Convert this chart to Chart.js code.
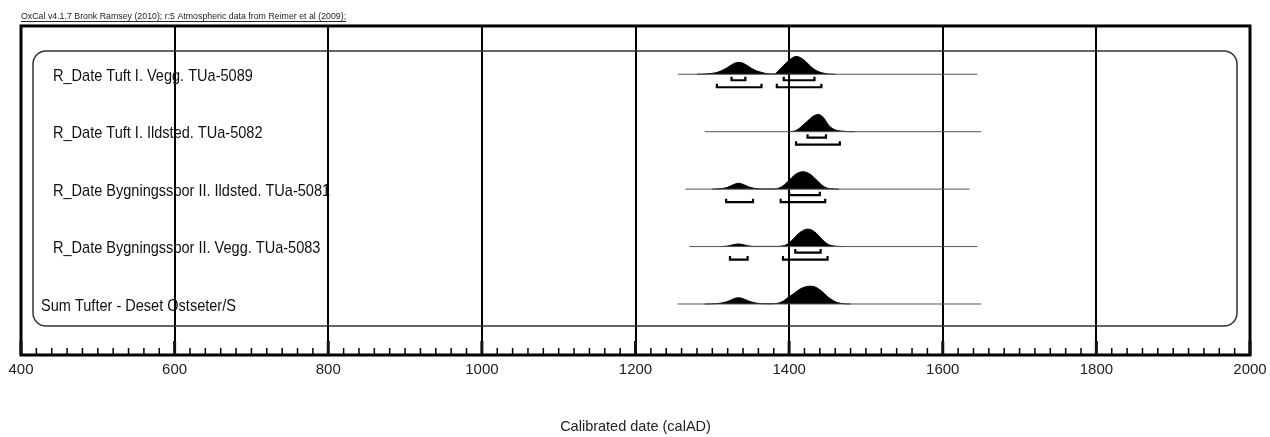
<!DOCTYPE html>
<html>
<head>
<meta charset="utf-8">
<script src="https://cdn.jsdelivr.net/npm/chart.js@4.4.0/dist/chart.umd.min.js"></script>
<style>
html,body{margin:0;padding:0;background:#fff;}
</style>
</head>
<body>
<canvas id="graf" width="1270" height="437"></canvas>
<script>
// rows, top to bottom
var etichette=[
  "R_Date Tuft I. Vegg. TUa-5089",
  "R_Date Tuft I. Ildsted. TUa-5082",
  "R_Date Bygningsspor II. Ildsted. TUa-5081",
  "R_Date Bygningsspor II. Vegg. TUa-5083",
  "Sum Tufter - Deset Ostseter/S"
];
var intestazione="OxCal v4.1.7 Bronk Ramsey (2010); r:5 Atmospheric data from Reimer et al (2009);";
var titoloAsse="Calibrated date (calAD)";

// axis (calAD)
var anniMin=400, anniMax=2000, passoMinore=20, passoMaggiore=200;

// extent of the thin line under each distribution (calAD)
var inizio=[1255,1290,1265,1270,1255];
var fine=[1645,1650,1635,1645,1650];

// probability, relative to the tallest peak: [year, p]
var tuft1Vegg=[[1280,0],[1292,0.02],[1305,0.09],[1312,0.2],[1318,0.33],[1324,0.5],[1329,0.62],[1334,0.67],[1340,0.62],[1345,0.5],[1350,0.36],[1356,0.22],[1362,0.13],[1368,0.06],[1375,0.02],[1381,0.02],[1386,0.2],[1392,0.45],[1398,0.72],[1404,0.92],[1409,1.0],[1415,0.93],[1422,0.7],[1430,0.36],[1437,0.17],[1444,0.07],[1452,0.01],[1460,0]];
var tuft1Ild=[[1400,0],[1408,0.05],[1413,0.18],[1418,0.37],[1424,0.6],[1429,0.8],[1434,0.93],[1438,0.97],[1442,0.9],[1446,0.72],[1450,0.45],[1454,0.25],[1460,0.1],[1467,0.04],[1475,0.01],[1485,0]];
var byg2Ild=[[1300,0],[1312,0.03],[1320,0.1],[1327,0.24],[1334,0.33],[1341,0.25],[1349,0.1],[1357,0.03],[1366,0.01],[1380,0.01],[1388,0.08],[1394,0.25],[1400,0.5],[1406,0.75],[1412,0.92],[1418,0.98],[1424,0.92],[1430,0.75],[1436,0.5],[1442,0.25],[1448,0.08],[1455,0.02],[1465,0]];
var byg2Vegg=[[1310,0],[1320,0.03],[1327,0.1],[1334,0.15],[1341,0.1],[1348,0.03],[1358,0.01],[1385,0.01],[1394,0.06],[1400,0.2],[1406,0.45],[1412,0.72],[1418,0.9],[1424,0.98],[1430,0.92],[1436,0.72],[1442,0.45],[1448,0.2],[1454,0.07],[1461,0.02],[1470,0]];
var sumTufter=[[1290,0],[1305,0.02],[1315,0.08],[1322,0.18],[1328,0.3],[1334,0.35],[1340,0.3],[1347,0.17],[1355,0.07],[1363,0.02],[1375,0.01],[1385,0.04],[1392,0.15],[1398,0.35],[1405,0.55],[1411,0.75],[1417,0.9],[1423,0.98],[1428,1.0],[1434,0.95],[1440,0.8],[1446,0.58],[1451,0.38],[1457,0.2],[1463,0.08],[1470,0.02],[1480,0]];
var curve=[tuft1Vegg,tuft1Ild,byg2Ild,byg2Vegg,sumTufter];

// highest density ranges (calAD)
var hpd68=[[[1325,1343],[1393,1433]],[[1424,1448]],[[1400,1440]],[[1408,1441]],[]];
var hpd95=[[[1306,1364],[1384,1442]],[[1409,1466]],[[1318,1353],[1389,1447]],[[1323,1346],[1392,1450]],[]];

var famiglia="'Liberation Sans',Arial,sans-serif";
var scala=0.31; // peak height in row units

var dati=[];
for(var i=0;i<curve.length;i++){
  dati.push({
    data:[{x:inizio[i],y:i},{x:fine[i],y:i}],
    borderColor:"#555",borderWidth:1,pointRadius:0,fill:false
  });
  var punti=[];
  for(var j=0;j<curve[i].length;j++)
    punti.push({x:curve[i][j][0],y:i-curve[i][j][1]*scala});
  dati.push({
    data:punti,
    borderColor:"#000",backgroundColor:"#000",borderWidth:1,pointRadius:0,
    fill:{value:i},cubicInterpolationMode:"monotone"
  });
}

function parentesi(ctx,x1,x2,y){
  ctx.beginPath();
  ctx.moveTo(x1,y-3.5);
  ctx.lineTo(x1,y);
  ctx.lineTo(x2,y);
  ctx.lineTo(x2,y-3.5);
  ctx.stroke();
}

var disegno={
  id:"disegno",
  beforeDatasetsDraw:function(chart){
    var ctx=chart.ctx, a=chart.chartArea;
    ctx.save();
    ctx.strokeStyle="#333";
    ctx.lineWidth=1.5;
    ctx.beginPath();
    ctx.roundRect(a.left+12,a.top+25,a.right-a.left-25,a.bottom-a.top-54,13);
    ctx.stroke();
    ctx.restore();
  },
  afterDatasetsDraw:function(chart){
    var ctx=chart.ctx, a=chart.chartArea;
    var sx=chart.scales.x, sy=chart.scales.y;
    ctx.save();
    // ranges
    ctx.strokeStyle="#000";
    ctx.lineWidth=2.2;
    for(var i=0;i<etichette.length;i++){
      var y=sy.getPixelForValue(i);
      for(var k=0;k<hpd68[i].length;k++)
        parentesi(ctx,sx.getPixelForValue(hpd68[i][k][0]),sx.getPixelForValue(hpd68[i][k][1]),y+6);
      for(var k=0;k<hpd95[i].length;k++)
        parentesi(ctx,sx.getPixelForValue(hpd95[i][k][0]),sx.getPixelForValue(hpd95[i][k][1]),y+13);
    }
    // row labels, narrow like the original
    ctx.fillStyle="#111";
    ctx.font="17px "+famiglia;
    ctx.textBaseline="middle";
    ctx.textAlign="left";
    for(var i=0;i<etichette.length;i++){
      var dx=(i==etichette.length-1)?20:32;
      ctx.save();
      ctx.translate(a.left+dx,sy.getPixelForValue(i)+2);
      ctx.scale(0.855,1);
      ctx.fillText(etichette[i],0,0);
      ctx.restore();
    }
    // frame
    ctx.strokeStyle="#000";
    ctx.lineWidth=3;
    ctx.strokeRect(a.left,a.top,a.right-a.left,a.bottom-a.top);
    // ticks along the bottom, pointing up
    for(var t=0;t<sx.ticks.length;t++){
      var v=sx.ticks[t].value;
      var px=sx.getPixelForValue(v);
      if(v%passoMaggiore==0){
        ctx.fillRect(px-1.5,a.bottom-14,3,14);
      }else{
        ctx.lineWidth=1.5;
        ctx.beginPath();
        ctx.moveTo(px,a.bottom-7);
        ctx.lineTo(px,a.bottom);
        ctx.stroke();
      }
    }
    // underline of the header
    ctx.font="8.8px "+famiglia;
    var w=ctx.measureText(intestazione).width;
    ctx.lineWidth=1;
    ctx.strokeStyle="#222";
    ctx.beginPath();
    ctx.moveTo(a.left,21.5);
    ctx.lineTo(a.left+w,21.5);
    ctx.stroke();
    ctx.restore();
  }
};

var grafico=new Chart("graf",{
  type:"line",
  data:{datasets:dati},
  options:{
    responsive:false,
    animation:false,
    devicePixelRatio:1,
    layout:{padding:{left:21,right:20,top:0,bottom:0}},
    plugins:{
      legend:{display:false},
      tooltip:{enabled:false},
      title:{
        display:true,
        text:intestazione,
        align:"start",
        color:"#222",
        font:{family:famiglia,size:8.8,weight:"normal"},
        padding:{top:11.5,bottom:3.9}
      }
    },
    scales:{
      x:{
        type:"linear",
        min:anniMin,
        max:anniMax,
        border:{display:false},
        grid:{
          drawTicks:false,
          lineWidth:2,
          color:function(c){
            return (c.tick && c.tick.value%passoMaggiore==0)?"#000":"rgba(0,0,0,0)";
          }
        },
        ticks:{
          stepSize:passoMinore,
          autoSkip:false,
          maxRotation:0,
          padding:6,
          color:"#222",
          font:{family:famiglia,size:15},
          callback:function(v){return v%passoMaggiore==0?String(v):"";}
        },
        title:{
          display:true,
          text:titoloAsse,
          color:"#222",
          font:{family:famiglia,size:14.5},
          padding:{top:0,bottom:1}
        },
        afterFit:function(scale){
          scale.height=82;
          scale.paddingLeft=0;
          scale.paddingRight=0;
        }
      },
      y:{
        display:false,
        reverse:true,
        min:-0.841,
        max:4.888
      }
    }
  },
  plugins:[disegno]
});
</script>
</body>
</html>
